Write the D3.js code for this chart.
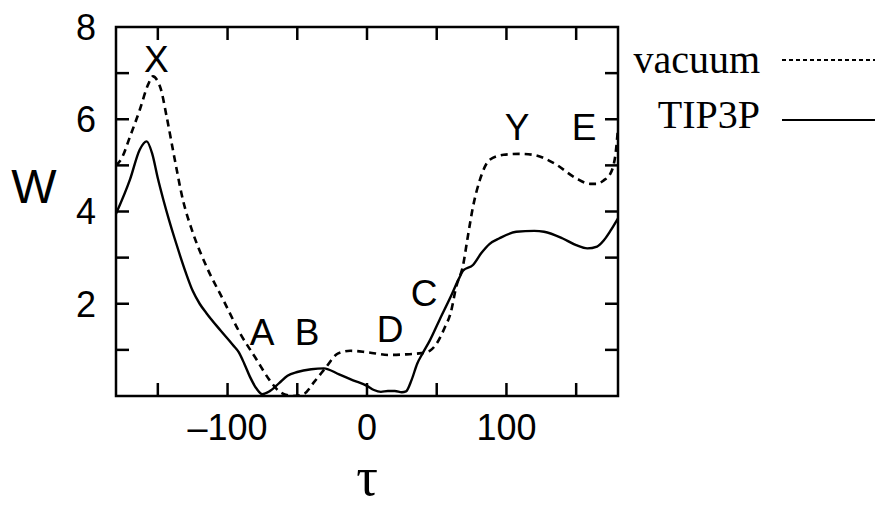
<!DOCTYPE html>
<html>
<head>
<meta charset="utf-8">
<script src="https://cdn.jsdelivr.net/npm/d3@7"></script>
<style>
  html, body { margin: 0; padding: 0; background: #fff; }
  svg { display: block; }
  .frame { fill: none; stroke: #000; stroke-width: 2.5; }
  .tick-mark { stroke: #000; stroke-width: 2.5; }
  .num { font-family: "Liberation Sans", Arial, sans-serif; font-size: 36px; fill: #000; }
  .mark-label { font-family: "Liberation Sans", Arial, sans-serif; font-size: 37px; fill: #000; }
  .serif { font-family: "Liberation Serif", "Times New Roman", serif; fill: #000; }
</style>
</head>
<body>
<div id="chart"></div>
<script>
// ---- data ----
const vacuumTau = [-180, -176, -170, -163, -157, -153.5, -150, -148, -143.7, -138, -132, -125, -115, -103, -91, -79, -70, -62, -53, -45, -38, -29, -22, -17, -12, 0, 16, 26, 39, 45, 50, 56, 60, 64, 69, 72, 76, 81, 88, 98, 110, 119, 134, 150, 160, 165, 170, 174, 178, 180];
const vacuumW   = [5.0, 5.15, 5.62, 6.2, 6.75, 6.93, 6.82, 6.67, 6.06, 5.15, 4.25, 3.55, 2.80, 2.08, 1.36, 0.78, 0.35, 0.08, 0.0, 0.05, 0.3, 0.64, 0.9, 0.96, 0.98, 0.95, 0.89, 0.9, 0.93, 0.98, 1.14, 1.5, 1.8, 2.37, 2.85, 3.4, 4.1, 4.69, 5.12, 5.23, 5.25, 5.23, 5.05, 4.72, 4.6, 4.6, 4.68, 4.79, 5.2, 5.8];

const tip3pTau = [-180, -170, -163, -158, -154, -150, -146, -142, -138, -134, -130, -125, -120, -115, -105, -96, -92, -88, -84, -79, -75, -70, -63, -57, -50, -40, -31, -20, -10, 0, 5, 10, 15, 20, 25, 28, 32, 36, 40, 45, 52, 60, 66, 69, 76, 82, 88, 95, 107, 120, 127, 140, 150, 158, 165, 170, 175, 180];
const tip3pW   = [3.95, 4.69, 5.34, 5.52, 5.25, 4.72, 4.25, 3.82, 3.42, 3.04, 2.68, 2.28, 2.0, 1.79, 1.42, 1.1, 0.95, 0.7, 0.42, 0.15, 0.04, 0.1, 0.28, 0.44, 0.52, 0.58, 0.6, 0.47, 0.34, 0.22, 0.13, 0.09, 0.11, 0.11, 0.08, 0.1, 0.35, 0.7, 0.93, 1.2, 1.65, 2.15, 2.55, 2.72, 2.84, 3.1, 3.3, 3.42, 3.56, 3.58, 3.56, 3.42, 3.27, 3.2, 3.24, 3.38, 3.6, 3.85];

// conformation labels: text, tau, W (baseline)
const pointNames = ['X', 'Y', 'E', 'A', 'B', 'D', 'C'];
const pointTau   = [-151, 107.6, 155.7, -75.3, -43, 16.5, 40.9];
const pointW     = [7.03, 5.55, 5.55, 1.11, 1.11, 1.17, 1.95];

const xTicks = [-150, -100, -50, 0, 50, 100, 150];
const xTickLabels = [-100, 0, 100];
const yTicks = [1, 2, 3, 4, 5, 6, 7];
const yTickLabels = [2, 4, 6, 8];

const seriesNames = ['vacuum', 'TIP3P'];

// ---- layout ----
const W = 877, H = 506;
const plot = { left: 116, right: 618, top: 27, bottom: 396 };
const TICK = 13;

const svg = d3.select('#chart').append('svg')
  .attr('width', W)
  .attr('height', H);

const x = d3.scaleLinear().domain([-180, 180]).range([plot.left, plot.right]);
const y = d3.scaleLinear().domain([0, 8]).range([plot.bottom, plot.top]);

// inward ticks on all four sides
const tickG = svg.append('g');
xTicks.forEach(t => {
  tickG.append('line').attr('class', 'tick-mark')
    .attr('x1', x(t)).attr('x2', x(t))
    .attr('y1', plot.bottom).attr('y2', plot.bottom - TICK);
  tickG.append('line').attr('class', 'tick-mark')
    .attr('x1', x(t)).attr('x2', x(t))
    .attr('y1', plot.top).attr('y2', plot.top + TICK);
});
yTicks.forEach(t => {
  tickG.append('line').attr('class', 'tick-mark')
    .attr('x1', plot.left).attr('x2', plot.left + TICK)
    .attr('y1', y(t)).attr('y2', y(t));
  tickG.append('line').attr('class', 'tick-mark')
    .attr('x1', plot.right).attr('x2', plot.right - TICK)
    .attr('y1', y(t)).attr('y2', y(t));
});

// tick labels
svg.selectAll('.xlab')
  .data(xTickLabels)
  .join('text')
  .attr('class', 'num')
  .attr('x', d => x(d))
  .attr('y', 440)
  .attr('text-anchor', 'middle')
  .text(d => d < 0 ? '\u2013' + Math.abs(d) : d);

svg.selectAll('.ylab')
  .data(yTickLabels)
  .join('text')
  .attr('class', 'num')
  .attr('x', plot.left - 20)
  .attr('y', d => y(d))
  .attr('dy', '0.36em')
  .attr('text-anchor', 'end')
  .text(d => d);

// axis titles
svg.append('text')
  .attr('class', 'num')
  .attr('x', 34).attr('y', 203)
  .attr('text-anchor', 'middle')
  .style('font-size', '48px')
  .text('W');

svg.append('text')
  .attr('class', 'serif')
  .attr('x', x(0)).attr('y', 495)
  .attr('text-anchor', 'middle')
  .style('font-size', '54px')
  .text('τ');

// curves
const line = d3.line()
  .x(d => x(d[0]))
  .y(d => y(d[1]))
  .curve(d3.curveMonotoneX);

const clip = svg.append('defs').append('clipPath').attr('id', 'plot-clip');
clip.append('rect')
  .attr('x', plot.left).attr('y', plot.top - 4)
  .attr('width', plot.right - plot.left).attr('height', plot.bottom - plot.top + 4);

const curves = svg.append('g').attr('clip-path', 'url(#plot-clip)');

curves.append('path')
  .attr('d', line(d3.zip(vacuumTau, vacuumW)))
  .attr('fill', 'none')
  .attr('stroke', '#000')
  .attr('stroke-width', 2.6)
  .attr('stroke-dasharray', '7,5');

curves.append('path')
  .attr('d', line(d3.zip(tip3pTau, tip3pW)))
  .attr('fill', 'none')
  .attr('stroke', '#000')
  .attr('stroke-width', 2.4);

// frame
svg.append('rect').attr('class', 'frame')
  .attr('x', plot.left).attr('y', plot.top)
  .attr('width', plot.right - plot.left)
  .attr('height', plot.bottom - plot.top);

// conformation letters
svg.selectAll('.mark-label')
  .data(d3.range(pointNames.length))
  .join('text')
  .attr('class', 'mark-label')
  .attr('x', i => x(pointTau[i]))
  .attr('y', i => y(pointW[i]))
  .attr('text-anchor', 'middle')
  .text(i => pointNames[i]);

// legend
const legend = svg.append('g');
const legendRows = [
  { name: seriesNames[0], base: 73, lineY: 60, dash: '4,3', width: 1.8 },
  { name: seriesNames[1], base: 128, lineY: 120, dash: null, width: 2.2 }
];
legendRows.forEach(r => {
  legend.append('text')
    .attr('class', 'serif')
    .attr('x', 760).attr('y', r.base)
    .attr('text-anchor', 'end')
    .style('font-size', '40px')
    .text(r.name);
  legend.append('line')
    .attr('x1', 782).attr('x2', 875)
    .attr('y1', r.lineY).attr('y2', r.lineY)
    .attr('stroke', '#000')
    .attr('stroke-width', r.width)
    .attr('stroke-dasharray', r.dash);
});
</script>
</body>
</html>
